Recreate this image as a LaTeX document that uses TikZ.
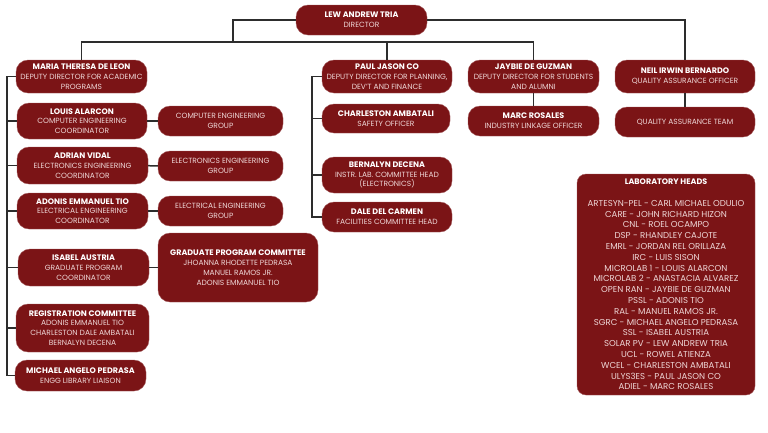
\documentclass[tikz,border=0pt]{standalone}
\usepackage{fontspec}
\setmainfont{Poppins}
\usetikzlibrary{positioning}

\definecolor{boxred}{RGB}{123,20,22}
\definecolor{subtxt}{RGB}{238,214,214}
\definecolor{linegray}{RGB}{45,45,45}
\newcommand{\pname}[1]{{\fontsize{8}{9.8}\selectfont\textbf{\color{white}#1}}}

\begin{document}
\begin{tikzpicture}[x=1pt, y=-1pt,
    unit/.style={draw=boxred!70!white, line width=0.4pt, fill=boxred, rounded corners=12pt, text=subtxt, align=center,
        inner sep=1pt, font=\fontsize{7.5}{9.8}\selectfont},
    link/.style={draw=linegray, line width=1.5pt}]

    \useasboundingbox (0,0) rectangle (768,432);

    \node[unit, minimum width=131pt, minimum height=30pt] (dir) at (361.5,20) {\pname{LEW ANDREW TRIA}\\DIRECTOR};

    \node[unit, minimum width=131pt, minimum height=33pt] (maria) at (81.5,76.5) {\pname{MARIA THERESA DE LEON}\\DEPUTY DIRECTOR FOR ACADEMIC\\PROGRAMS};
    \node[unit, minimum width=130pt, minimum height=33pt] (paul) at (387,76.5) {\pname{PAUL JASON CO}\\DEPUTY DIRECTOR FOR PLANNING,\\DEV'T AND FINANCE};
    \node[unit, minimum width=131pt, minimum height=33pt] (jaybie) at (533.5,76.5) {\pname{JAYBIE DE GUZMAN}\\DEPUTY DIRECTOR FOR STUDENTS\\AND ALUMNI};
    \node[unit, minimum width=140pt, minimum height=33pt] (neil) at (685,76.5) {\pname{NEIL IRWIN BERNARDO}\\QUALITY ASSURANCE OFFICER};

    \node[unit, minimum width=131pt, minimum height=30pt] (marc) at (533.5,121) {\pname{MARC ROSALES}\\INDUSTRY LINKAGE OFFICER};
    \node[unit, minimum width=140pt, minimum height=30pt] (qa) at (685,122) {QUALITY ASSURANCE TEAM};

    \node[unit, minimum width=128pt, minimum height=29pt] (charleston) at (386,118.5) {\pname{CHARLESTON AMBATALI}\\SAFETY OFFICER};
    \node[unit, minimum width=130pt, minimum height=36pt] (bernalyn) at (387,175) {\pname{BERNALYN DECENA}\\INSTR. LAB. COMMITTEE HEAD\\(ELECTRONICS)};
    \node[unit, minimum width=130pt, minimum height=30pt] (dale) at (387,217) {\pname{DALE DEL CARMEN}\\FACILITIES COMMITTEE HEAD};

    \node[unit, minimum width=130pt, minimum height=36pt] (louis) at (82,121) {\pname{LOUIS ALARCON}\\COMPUTER ENGINEERING\\COORDINATOR};
    \node[unit, minimum width=125pt, minimum height=30pt] (cpegrp) at (220.5,121) {COMPUTER ENGINEERING\\GROUP};
    \node[unit, minimum width=131pt, minimum height=37pt] (adrian) at (82.5,165.5) {\pname{ADRIAN VIDAL}\\ELECTRONICS ENGINEERING\\COORDINATOR};
    \node[unit, minimum width=125pt, minimum height=30pt] (ecegrp) at (220.5,166) {ELECTRONICS ENGINEERING\\GROUP};
    \node[unit, minimum width=131pt, minimum height=36pt] (adonis) at (82.5,211) {\pname{ADONIS EMMANUEL TIO}\\ELECTRICAL ENGINEERING\\COORDINATOR};
    \node[unit, minimum width=125pt, minimum height=30pt] (eegrp) at (220.5,211) {ELECTRICAL ENGINEERING\\GROUP};
    \node[unit, minimum width=131pt, minimum height=37pt] (isabel) at (83.5,267.5) {\pname{ISABEL AUSTRIA}\\GRADUATE PROGRAM\\COORDINATOR};
    \node[unit, minimum width=160pt, minimum height=69pt] (gradcom) at (238,267.5) {\pname{GRADUATE PROGRAM COMMITTEE}\\JHOANNA RHODETTE PEDRASA\\MANUEL RAMOS JR.\\ADONIS EMMANUEL TIO};
    \node[unit, minimum width=133pt, minimum height=48pt] (regcom) at (82.5,328) {\pname{REGISTRATION COMMITTEE}\\ADONIS EMMANUEL TIO\\CHARLESTON DALE AMBATALI\\BERNALYN DECENA};
    \node[unit, minimum width=131pt, minimum height=31pt] (michael) at (80.5,375.5) {\pname{MICHAEL ANGELO PEDRASA}\\ENGG LIBRARY LIAISON};

    \node[unit, rounded corners=9pt, minimum width=178pt, minimum height=221pt, font=\fontsize{8.6}{10.8}\selectfont] (labs) at (666,284.5) {\pname{LABORATORY HEADS}\\[10.8pt]
        ARTESYN-PEL - CARL MICHAEL ODULIO\\CARE - JOHN RICHARD HIZON\\CNL - ROEL OCAMPO\\DSP - RHANDLEY CAJOTE\\
        EMRL - JORDAN REL ORILLAZA\\IRC - LUIS SISON\\MICROLAB 1 - LOUIS ALARCON\\MICROLAB 2 - ANASTACIA ALVAREZ\\
        OPEN RAN - JAYBIE DE GUZMAN\\PSSL - ADONIS TIO\\RAL - MANUEL RAMOS JR.\\SGRC - MICHAEL ANGELO PEDRASA\\
        SSL - ISABEL AUSTRIA\\SOLAR PV - LEW ANDREW TRIA\\UCL - ROWEL ATIENZA\\WCEL - CHARLESTON AMBATALI\\
        ULYS3ES - PAUL JASON CO\\ADIEL - MARC ROSALES};

    \coordinate (bus) at (233,42);
    \coordinate (lrail) at (7,0);
    \coordinate (prail) at (312,0);

    \draw[link] (dir.west) -| (bus);
    \draw[link] (maria.north) |- (jaybie.north |- bus) -- (jaybie.north);
    \draw[link] (paul.north) -- (paul.north |- bus);
    \draw[link] (dir.east) -| (neil.north);
    \draw[link] (jaybie.south) -- (marc.north);
    \draw[link] (neil.south) -- (qa.north);

    \draw[link] (maria.west) -- (maria.west -| lrail) -- (michael.west -| lrail) -- (michael.west);
    \foreach \n in {louis, adrian, adonis, isabel, regcom}
        \draw[link] (\n.west) -- (\n.west -| lrail);

    \draw[link] (paul.west) -- (paul.west -| prail) -- (dale.west -| prail) -- (dale.west);
    \foreach \n in {charleston, bernalyn}
        \draw[link] (\n.west) -- (\n.west -| prail);

    \draw[link] (louis) -- (cpegrp);
    \draw[link] (adrian) -- (ecegrp);
    \draw[link] (adonis) -- (eegrp);
    \draw[link] (isabel) -- (gradcom);

\end{tikzpicture}
\end{document}
